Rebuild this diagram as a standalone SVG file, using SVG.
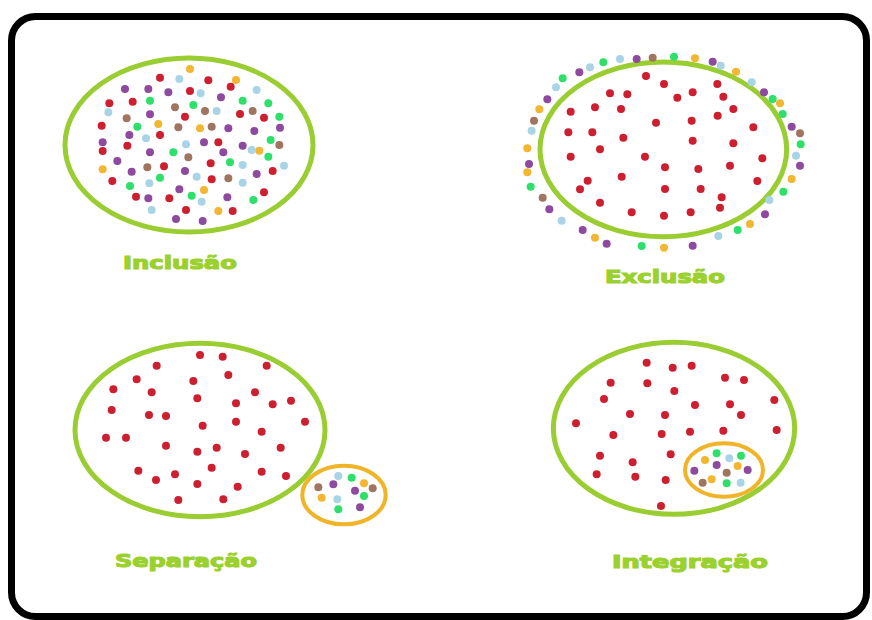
<svg xmlns="http://www.w3.org/2000/svg" width="872" height="620" viewBox="0 0 872 620">
<style>
.ring{fill:none;stroke:#9acd32;stroke-width:15}
.oring{fill:none;stroke:#f0b429;stroke-width:12}
.r{fill:#cc1f2f}.p{fill:#8e4a9e}.b{fill:#a9d4e6}.g{fill:#2ee06a}.n{fill:#a07560}.y{fill:#f2b632}
circle{r:12px}
.lbl{font-family:"DejaVu Sans","Liberation Sans",sans-serif;font-weight:bold;font-size:17px;fill:#9bd12e;stroke:#9bd12e;stroke-width:1.1px}
</style>
<rect x="0" y="0" width="872" height="620" fill="#ffffff"/>
<rect x="11.5" y="16.5" width="855" height="600" rx="24" fill="#ffffff" stroke="#000" stroke-width="7"/>

<g id="inclusao" transform="translate(60,55) scale(0.33333)">
<ellipse class="ring" cx="387" cy="270" rx="372" ry="261"/>
<g>
<circle class="y" cx="390" cy="42" r="11"/><circle class="r" cx="300" cy="68" r="11"/><circle class="b" cx="358" cy="72" r="11"/><circle class="r" cx="445" cy="76" r="11"/><circle class="y" cx="528" cy="75" r="11"/><circle class="r" cx="512" cy="95" r="11"/>
<circle class="p" cx="195" cy="102" r="11"/><circle class="p" cx="265" cy="102" r="11"/><circle class="p" cx="325" cy="112" r="11"/><circle class="r" cx="390" cy="108" r="11"/><circle class="b" cx="422" cy="115" r="11"/><circle class="p" cx="483" cy="127" r="11"/><circle class="b" cx="590" cy="105" r="11"/>
<circle class="r" cx="148" cy="145" r="11"/><circle class="r" cx="218" cy="140" r="11"/><circle class="g" cx="270" cy="137" r="11"/><circle class="n" cx="345" cy="157" r="11"/><circle class="g" cx="400" cy="150" r="11"/><circle class="n" cx="435" cy="168" r="11"/><circle class="b" cx="470" cy="168" r="11"/><circle class="g" cx="548" cy="137" r="11"/><circle class="g" cx="625" cy="145" r="11"/><circle class="r" cx="540" cy="177" r="11"/><circle class="n" cx="578" cy="168" r="11"/><circle class="r" cx="612" cy="188" r="11"/><circle class="g" cx="658" cy="185" r="11"/>
<circle class="b" cx="145" cy="172" r="11"/><circle class="p" cx="270" cy="178" r="11"/><circle class="r" cx="375" cy="185" r="11"/>
<circle class="r" cx="125" cy="212" r="11"/><circle class="n" cx="200" cy="190" r="11"/><circle class="y" cx="295" cy="207" r="11"/><circle class="g" cx="232" cy="215" r="11"/><circle class="n" cx="355" cy="217" r="11"/><circle class="y" cx="420" cy="220" r="11"/><circle class="n" cx="455" cy="215" r="11"/><circle class="p" cx="505" cy="220" r="11"/><circle class="p" cx="583" cy="228" r="11"/><circle class="p" cx="660" cy="218" r="11"/>
<circle class="p" cx="208" cy="240" r="11"/><circle class="r" cx="300" cy="240" r="11"/><circle class="b" cx="258" cy="250" r="11"/><circle class="p" cx="128" cy="262" r="11"/><circle class="r" cx="128" cy="288" r="11"/><circle class="r" cx="202" cy="272" r="11"/><circle class="p" cx="432" cy="262" r="11"/><circle class="r" cx="475" cy="262" r="11"/><circle class="b" cx="378" cy="268" r="11"/><circle class="p" cx="270" cy="292" r="11"/><circle class="g" cx="340" cy="292" r="11"/><circle class="p" cx="490" cy="292" r="11"/><circle class="p" cx="548" cy="272" r="11"/><circle class="g" cx="632" cy="255" r="11"/><circle class="n" cx="658" cy="270" r="11"/><circle class="b" cx="575" cy="285" r="11"/><circle class="y" cx="598" cy="287" r="11"/><circle class="g" cx="625" cy="305" r="11"/>
<circle class="p" cx="172" cy="318" r="11"/><circle class="n" cx="262" cy="337" r="11"/><circle class="n" cx="385" cy="307" r="11"/><circle class="r" cx="312" cy="334" r="11"/><circle class="p" cx="375" cy="348" r="11"/><circle class="r" cx="452" cy="325" r="11"/><circle class="g" cx="510" cy="322" r="11"/><circle class="b" cx="548" cy="330" r="11"/><circle class="b" cx="672" cy="332" r="11"/><circle class="y" cx="128" cy="343" r="11"/><circle class="p" cx="215" cy="350" r="11"/><circle class="r" cx="638" cy="348" r="11"/><circle class="p" cx="590" cy="357" r="11"/>
<circle class="r" cx="157" cy="378" r="11"/><circle class="g" cx="300" cy="368" r="11"/><circle class="b" cx="268" cy="385" r="11"/><circle class="g" cx="210" cy="393" r="11"/><circle class="b" cx="410" cy="365" r="11"/><circle class="r" cx="455" cy="373" r="11"/><circle class="n" cx="505" cy="370" r="11"/><circle class="b" cx="548" cy="383" r="11"/>
<circle class="p" cx="358" cy="403" r="11"/><circle class="y" cx="432" cy="405" r="11"/><circle class="r" cx="612" cy="412" r="11"/><circle class="r" cx="228" cy="425" r="11"/><circle class="p" cx="265" cy="430" r="11"/><circle class="r" cx="328" cy="430" r="11"/><circle class="g" cx="395" cy="422" r="11"/><circle class="b" cx="425" cy="440" r="11"/><circle class="p" cx="502" cy="427" r="11"/><circle class="g" cx="580" cy="435" r="11"/>
<circle class="b" cx="275" cy="465" r="11"/><circle class="r" cx="378" cy="465" r="11"/><circle class="y" cx="475" cy="468" r="11"/><circle class="r" cx="518" cy="468" r="11"/><circle class="p" cx="348" cy="492" r="11"/><circle class="p" cx="428" cy="498" r="11"/>
</g>
</g>

<g id="exclusao" transform="translate(510,45) scale(0.33333)">
<ellipse class="ring" cx="460" cy="313" rx="370" ry="262"/>
<g>
<circle class="r" cx="408" cy="93" r="11"/><circle class="r" cx="462" cy="117" r="11"/><circle class="r" cx="622" cy="117" r="11"/><circle class="r" cx="300" cy="145" r="11"/><circle class="r" cx="352" cy="148" r="11"/><circle class="r" cx="502" cy="158" r="11"/><circle class="r" cx="548" cy="142" r="11"/><circle class="r" cx="640" cy="155" r="11"/><circle class="r" cx="182" cy="200" r="11"/><circle class="r" cx="255" cy="187" r="11"/><circle class="r" cx="333" cy="192" r="11"/><circle class="r" cx="670" cy="192" r="11"/><circle class="r" cx="623" cy="212" r="11"/><circle class="r" cx="438" cy="233" r="11"/><circle class="r" cx="545" cy="227" r="11"/><circle class="r" cx="730" cy="247" r="11"/><circle class="r" cx="175" cy="262" r="11"/><circle class="r" cx="247" cy="262" r="11"/><circle class="r" cx="340" cy="278" r="11"/><circle class="r" cx="548" cy="287" r="11"/><circle class="r" cx="670" cy="295" r="11"/><circle class="r" cx="270" cy="313" r="11"/><circle class="r" cx="182" cy="335" r="11"/><circle class="r" cx="405" cy="335" r="11"/><circle class="r" cx="757" cy="340" r="11"/><circle class="r" cx="465" cy="367" r="11"/><circle class="r" cx="565" cy="372" r="11"/><circle class="r" cx="660" cy="362" r="11"/><circle class="r" cx="335" cy="395" r="11"/><circle class="r" cx="233" cy="407" r="11"/><circle class="r" cx="742" cy="408" r="11"/><circle class="r" cx="210" cy="433" r="11"/><circle class="r" cx="465" cy="432" r="11"/><circle class="r" cx="572" cy="432" r="11"/><circle class="r" cx="635" cy="457" r="11"/><circle class="r" cx="270" cy="473" r="11"/><circle class="r" cx="630" cy="488" r="11"/><circle class="r" cx="365" cy="502" r="11"/><circle class="r" cx="462" cy="512" r="11"/><circle class="r" cx="542" cy="502" r="11"/>
</g>
<g>
<circle class="g" cx="280" cy="52" r="11"/><circle class="b" cx="330" cy="42" r="11"/><circle class="p" cx="380" cy="42" r="11"/><circle class="n" cx="428" cy="38" r="11"/><circle class="g" cx="492" cy="35" r="11"/><circle class="y" cx="555" cy="40" r="11"/><circle class="p" cx="608" cy="50" r="11"/><circle class="b" cx="632" cy="62" r="11"/><circle class="y" cx="678" cy="80" r="11"/><circle class="b" cx="725" cy="112" r="11"/><circle class="p" cx="762" cy="142" r="11"/><circle class="g" cx="788" cy="162" r="11"/><circle class="y" cx="810" cy="175" r="11"/><circle class="g" cx="818" cy="207" r="11"/><circle class="p" cx="845" cy="245" r="11"/><circle class="n" cx="870" cy="265" r="11"/><circle class="g" cx="872" cy="298" r="11"/><circle class="b" cx="858" cy="332" r="11"/><circle class="p" cx="870" cy="362" r="11"/><circle class="y" cx="845" cy="402" r="11"/><circle class="g" cx="820" cy="440" r="11"/><circle class="b" cx="778" cy="465" r="11"/><circle class="p" cx="765" cy="508" r="11"/><circle class="y" cx="720" cy="537" r="11"/><circle class="g" cx="683" cy="555" r="11"/><circle class="b" cx="625" cy="573" r="11"/><circle class="p" cx="548" cy="602" r="11"/><circle class="y" cx="462" cy="608" r="11"/><circle class="g" cx="395" cy="603" r="11"/><circle class="p" cx="290" cy="596" r="11"/><circle class="y" cx="255" cy="578" r="11"/><circle class="p" cx="218" cy="555" r="11"/><circle class="b" cx="155" cy="527" r="11"/><circle class="p" cx="118" cy="493" r="11"/><circle class="n" cx="98" cy="458" r="11"/><circle class="g" cx="62" cy="425" r="11"/><circle class="y" cx="52" cy="382" r="11"/><circle class="p" cx="57" cy="357" r="11"/><circle class="y" cx="52" cy="310" r="11"/><circle class="b" cx="65" cy="257" r="11"/><circle class="n" cx="72" cy="227" r="11"/><circle class="y" cx="88" cy="193" r="11"/><circle class="p" cx="112" cy="163" r="11"/><circle class="b" cx="138" cy="127" r="11"/><circle class="g" cx="158" cy="100" r="11"/><circle class="p" cx="208" cy="82" r="11"/><circle class="b" cx="240" cy="67" r="11"/>
</g>
</g>

<g id="separacao" transform="translate(70,340) scale(0.33333)">
<ellipse class="ring" cx="390" cy="270" rx="375" ry="260"/>
<g>
<circle class="r" cx="390" cy="45" r="11"/><circle class="r" cx="458" cy="50" r="11"/><circle class="r" cx="260" cy="77" r="11"/><circle class="r" cx="590" cy="77" r="11"/><circle class="r" cx="200" cy="118" r="11"/><circle class="r" cx="370" cy="123" r="11"/><circle class="r" cx="475" cy="105" r="11"/><circle class="r" cx="130" cy="148" r="11"/><circle class="r" cx="245" cy="157" r="11"/><circle class="r" cx="555" cy="157" r="11"/><circle class="r" cx="382" cy="175" r="11"/><circle class="r" cx="498" cy="190" r="11"/><circle class="r" cx="608" cy="193" r="11"/><circle class="r" cx="663" cy="182" r="11"/><circle class="r" cx="125" cy="210" r="11"/><circle class="r" cx="237" cy="225" r="11"/><circle class="r" cx="288" cy="228" r="11"/><circle class="r" cx="705" cy="245" r="11"/><circle class="r" cx="398" cy="257" r="11"/><circle class="r" cx="498" cy="245" r="11"/><circle class="r" cx="108" cy="293" r="11"/><circle class="r" cx="168" cy="293" r="11"/><circle class="r" cx="575" cy="275" r="11"/><circle class="r" cx="288" cy="317" r="11"/><circle class="r" cx="382" cy="335" r="11"/><circle class="r" cx="440" cy="323" r="11"/><circle class="r" cx="525" cy="342" r="11"/><circle class="r" cx="632" cy="323" r="11"/><circle class="r" cx="205" cy="392" r="11"/><circle class="r" cx="425" cy="383" r="11"/><circle class="r" cx="575" cy="395" r="11"/><circle class="r" cx="648" cy="408" r="11"/><circle class="r" cx="258" cy="420" r="11"/><circle class="r" cx="315" cy="403" r="11"/><circle class="r" cx="382" cy="432" r="11"/><circle class="r" cx="503" cy="440" r="11"/><circle class="r" cx="325" cy="480" r="11"/><circle class="r" cx="460" cy="478" r="11"/>
</g>
<ellipse class="oring" cx="822" cy="465" rx="125" ry="88"/>
<g>
<circle class="b" cx="805" cy="408" r="11"/><circle class="g" cx="845" cy="413" r="11"/><circle class="n" cx="745" cy="442" r="11"/><circle class="p" cx="790" cy="433" r="11"/><circle class="y" cx="882" cy="430" r="11"/><circle class="p" cx="855" cy="452" r="11"/><circle class="n" cx="908" cy="445" r="11"/><circle class="y" cx="755" cy="473" r="11"/><circle class="b" cx="802" cy="478" r="11"/><circle class="g" cx="882" cy="468" r="11"/><circle class="g" cx="805" cy="508" r="11"/><circle class="p" cx="870" cy="502" r="11"/>
</g>
</g>

<g id="integracao" transform="translate(550,340) scale(0.33333)">
<ellipse class="ring" cx="372" cy="265" rx="362" ry="258"/>
<g>
<circle class="r" cx="290" cy="68" r="11"/><circle class="r" cx="368" cy="83" r="11"/><circle class="r" cx="425" cy="77" r="11"/><circle class="r" cx="182" cy="128" r="11"/><circle class="r" cx="292" cy="130" r="11"/><circle class="r" cx="525" cy="113" r="11"/><circle class="r" cx="582" cy="120" r="11"/><circle class="r" cx="373" cy="153" r="11"/><circle class="r" cx="162" cy="177" r="11"/><circle class="r" cx="435" cy="195" r="11"/><circle class="r" cx="540" cy="193" r="11"/><circle class="r" cx="673" cy="180" r="11"/><circle class="r" cx="240" cy="222" r="11"/><circle class="r" cx="345" cy="225" r="11"/><circle class="r" cx="573" cy="225" r="11"/><circle class="r" cx="78" cy="250" r="11"/><circle class="r" cx="190" cy="285" r="11"/><circle class="r" cx="335" cy="282" r="11"/><circle class="r" cx="420" cy="275" r="11"/><circle class="r" cx="520" cy="272" r="11"/><circle class="r" cx="680" cy="270" r="11"/><circle class="r" cx="150" cy="347" r="11"/><circle class="r" cx="362" cy="343" r="11"/><circle class="r" cx="248" cy="367" r="11"/><circle class="r" cx="140" cy="403" r="11"/><circle class="r" cx="256" cy="410" r="11"/><circle class="r" cx="347" cy="420" r="11"/><circle class="r" cx="333" cy="498" r="11"/>
</g>
<ellipse class="oring" cx="522" cy="390" rx="117" ry="80"/>
<g>
<circle class="g" cx="500" cy="340" r="11"/><circle class="g" cx="573" cy="347" r="11"/><circle class="y" cx="465" cy="360" r="11"/><circle class="b" cx="538" cy="355" r="11"/><circle class="p" cx="500" cy="375" r="11"/><circle class="y" cx="563" cy="378" r="11"/><circle class="p" cx="433" cy="392" r="11"/><circle class="n" cx="530" cy="398" r="11"/><circle class="p" cx="593" cy="390" r="11"/><circle class="y" cx="485" cy="418" r="11"/><circle class="n" cx="458" cy="428" r="11"/><circle class="g" cx="530" cy="430" r="11"/><circle class="b" cx="572" cy="428" r="11"/>
</g>
</g>

<g id="labels">
<text class="lbl" x="123" y="269" textLength="114" lengthAdjust="spacingAndGlyphs">Inclusão</text>
<text class="lbl" x="605" y="283" textLength="120" lengthAdjust="spacingAndGlyphs">Exclusão</text>
<text class="lbl" x="115" y="567" textLength="142" lengthAdjust="spacingAndGlyphs">Separação</text>
<text class="lbl" x="612" y="568" textLength="156" lengthAdjust="spacingAndGlyphs">Integração</text>
</g>
</svg>
